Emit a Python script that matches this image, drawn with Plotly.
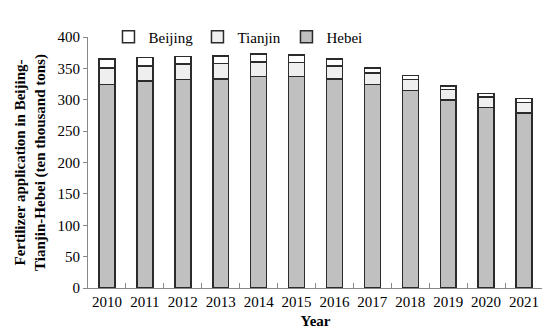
import plotly.graph_objects as go

years = ["2010", "2011", "2012", "2013", "2014", "2015", "2016", "2017", "2018", "2019", "2020", "2021"]
hebei = [324, 330, 332, 333, 337, 337, 333, 324, 315, 300, 288, 279]
tianjin = [27, 24, 25, 25, 23, 22, 21, 19, 17, 16, 16, 17]
beijing = [14, 13, 12, 12, 13, 12, 11, 8, 7, 6, 6, 6]

FONT = "Liberation Serif"
line = dict(color="#2b2b2b", width=1.5)

fig = go.Figure()
fig.add_trace(go.Bar(x=years, y=hebei, name="Hebei", marker=dict(color="#c0c0c0", line=line)))
fig.add_trace(go.Bar(x=years, y=tianjin, name="Tianjin", marker=dict(color="#efefef", line=line)))
fig.add_trace(go.Bar(x=years, y=beijing, name="Beijing", marker=dict(color="#ffffff", line=line)))

fig.update_layout(
    width=550, height=332,
    barmode="stack", bargap=0.58,
    margin=dict(l=80, r=15, t=17, b=52),
    plot_bgcolor="white", paper_bgcolor="white",
    font=dict(family=FONT, size=15, color="black"),
    showlegend=True,
    legend=dict(orientation="h", traceorder="reversed", x=0.045, y=1.0, xanchor="left", yanchor="middle",
                bgcolor="rgba(0,0,0,0)", font=dict(family=FONT, size=15), itemwidth=30,
                entrywidth=44, entrywidthmode="pixels"),
    xaxis=dict(
        showline=True, linecolor="#888888", linewidth=1,
        ticks="inside", tickson="boundaries", ticklen=5, tickcolor="#888888",
        tickfont=dict(family=FONT, size=15), tickangle=0,
        title=dict(text="<b>Year</b>", font=dict(family=FONT, size=15), standoff=6),
    ),
    yaxis=dict(
        range=[0, 400], dtick=50, showgrid=False, zeroline=False,
        showline=True, linecolor="#888888", linewidth=1,
        ticks="outside", ticklen=4, tickcolor="#888888",
        tickfont=dict(family=FONT, size=15),
        title=dict(text="<b>Fertilizer application in Beijing-<br>Tianjin-Hebei (ten thousand tons)</b>",
                   font=dict(family=FONT, size=15), standoff=8),
    ),
)

fig.write_html("out.html")
